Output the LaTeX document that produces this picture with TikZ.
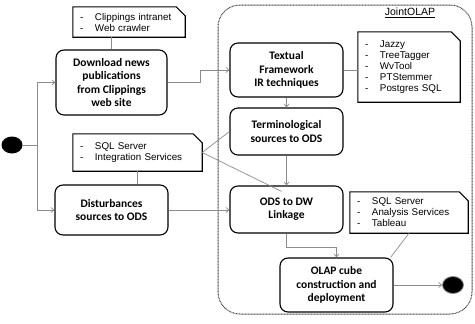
\documentclass[tikz,border=0pt]{standalone}
\usepackage{fontspec}
\setmainfont{Liberation Sans}
\newfontfamily\actfamily{Carlito}
\usetikzlibrary{arrows.meta,shapes.geometric,calc}
\newcommand\nitem[1]{\makebox[15pt][l]{-}#1}
\newcommand\noteframe[1]{\draw[noteframe] (#1.north west) -- ([xshift=-9pt]#1.north east)
  -- ([yshift=-9pt]#1.north east) -- (#1.south east) -- (#1.south west) -- cycle;}
\definecolor{conncol}{RGB}{140,140,140}
\begin{document}
\begin{tikzpicture}[x=1pt,y=-1pt,
  act/.style={draw=black, line width=1.1pt, rounded corners=8pt, align=center,
    font=\actfamily\bfseries\fontsize{11.5}{13.3}\selectfont, inner sep=2pt},
  note/.style={rectangle, align=left, inner xsep=7pt, inner ysep=2pt,
    font=\fontsize{9.8}{11}\selectfont},
  noteframe/.style={draw=black, line width=1.1pt, line join=miter},
  dot/.style={ellipse, fill=black, minimum width=21pt, minimum height=17pt, inner sep=0pt},
  link/.style={draw=conncol, line width=0.7pt},
  arrow/.style={link, -{Straight Barb[length=3pt,width=5pt]}},
  container/.style={draw=black!75, line width=1pt, dash pattern=on 0.8pt off 0.7pt,
    rounded corners=22pt, inner sep=0pt}
]
\useasboundingbox (0,0) rectangle (475,324);

% container
\node[container, minimum width=254pt, minimum height=309pt] (joint) at (345,159.5) {};
\node[font=\fontsize{10.5}{12}\selectfont, inner sep=0pt] (jlabel) at (410,13) {\underline{JointOLAP}};

% notes
\node[note, text width=98pt, minimum width=112pt, minimum height=30pt] (note1) at (129,22)
  {\nitem{Clippings intranet}\\\nitem{Web crawler}};
\noteframe{note1}
\node[note, text width=115pt, minimum width=129pt, minimum height=37pt] (sqlnote) at (137.5,152.5)
  {\nitem{SQL Server}\\\nitem{Integration Services}};
\noteframe{sqlnote}
\node[note, text width=88pt, minimum width=102pt, minimum height=70pt] (jazzy) at (409,67)
  {\nitem{Jazzy}\\\nitem{TreeTagger}\\\nitem{WvTool}\\\nitem{PTStemmer}\\\nitem{Postgres SQL}};
\noteframe{jazzy}
\node[note, text width=104pt, minimum width=118pt, minimum height=41pt] (ssas) at (409,212.5)
  {\nitem{SQL Server}\\\nitem{Analysis Services}\\\nitem{Tableau}};
\noteframe{ssas}

% activities
\node[act, minimum width=111pt, minimum height=65pt] (download) at (111.5,82.5)
  {Download news\\publications\\from Clippings\\web site};
\node[act, minimum width=113pt, minimum height=50pt] (disturb) at (111.5,210)
  {Disturbances\\sources to ODS};
\node[act, minimum width=113pt, minimum height=54pt] (textual) at (286.5,70)
  {Textual\\Framework\\IR techniques};
\node[act, minimum width=113pt, minimum height=47pt] (term) at (286.5,131.5)
  {Terminological\\sources to ODS};
\node[act, minimum width=113pt, minimum height=47pt] (ods) at (286.5,209.5)
  {ODS to DW\\Linkage};
\node[act, minimum width=113pt, minimum height=54pt] (olap) at (336.5,285)
  {OLAP cube\\construction and\\deployment};

% start / end
\node[dot] (start) at (12,145) {};
\node[dot, draw=black!45, line width=0.8pt] (end) at (453,285) {};

% note links
\draw[link] (download.north) -- (download.north |- note1.south);
\draw[link] (sqlnote.south) -- (sqlnote.south |- disturb.north);
\draw[link] (sqlnote.east) -- (term.west);
\draw[link] (sqlnote.east) -- ($(ods.north)+(-5,6)$);
\draw[link] (textual.east) -- (textual.east -| jazzy.west);
\draw[link] (ssas.south) -- ($(olap.north east)+(-3,0)$);

% flow
\coordinate (split) at (37,145);
\draw[link] (start.east) -- (split);
\draw[arrow] (split) |- (download.west);
\draw[arrow] (split) |- (disturb.west);
\draw[arrow] (download.east) -- ++(33,0) |- (textual.west);
\draw[arrow] (textual.south) -- (term.north);
\draw[arrow] (term.south) -- (ods.north);
\draw[arrow] (disturb.east) -- (disturb.east -| ods.west);
\draw[arrow] (ods.south) -- ++(0,14) -| (olap.north);
\draw[arrow] (olap.east) -- (end.west);
\end{tikzpicture}
\end{document}
